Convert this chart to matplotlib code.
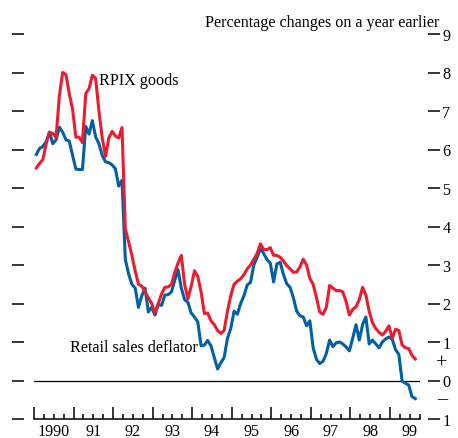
import matplotlib
matplotlib.use("Agg")
import matplotlib.pyplot as plt
import numpy as np

plt.rcParams["font.family"] = ["Liberation Serif", "DejaVu Serif"]

# Monthly percentage changes on a year earlier, January 1990 onwards
rpix_goods = [
    5.52, 5.64, 5.74, 6.15, 6.45, 6.42, 6.31, 7.40, 8.00, 7.95, 7.45, 7.05,
    6.32, 6.32, 6.18, 7.45, 7.58, 7.93, 7.85, 7.00, 6.30, 5.82, 6.30, 6.47,
    6.35, 6.30, 6.57, 3.95, 3.60, 3.25, 2.85, 2.50, 2.45, 2.30, 2.15, 2.00,
    1.75, 2.00, 2.25, 2.42, 2.43, 2.50, 2.80, 3.05, 3.25, 2.50, 2.12, 2.45,
    2.85, 2.70, 2.30, 1.74, 1.75, 1.55, 1.45, 1.30, 1.22, 1.30, 1.80, 2.20,
    2.50, 2.58, 2.64, 2.75, 2.90, 3.00, 3.15, 3.30, 3.55, 3.40, 3.40, 3.45,
    3.25, 3.25, 3.20, 3.10, 2.98, 2.90, 2.81, 2.82, 2.95, 3.15, 3.00, 2.65,
    2.50, 2.15, 1.78, 1.72, 1.90, 2.47, 2.40, 2.33, 2.34, 2.30, 2.05, 1.70,
    1.85, 1.91, 2.10, 2.42, 2.22, 1.80, 1.50, 1.35, 1.25, 1.18, 1.28, 1.42,
    1.10, 1.33, 1.30, 0.92, 0.85, 0.83, 0.65, 0.56,
]
retail_deflator = [
    5.87, 6.03, 6.08, 6.20, 6.45, 6.15, 6.25, 6.58, 6.45, 6.25, 6.22, 5.85,
    5.49, 5.48, 5.48, 6.60, 6.40, 6.75, 6.33, 6.15, 5.85, 5.68, 5.66, 5.60,
    5.50, 5.05, 5.20, 3.15, 2.77, 2.50, 2.40, 1.90, 2.20, 2.40, 1.78, 1.90,
    1.70, 1.98, 1.95, 2.22, 2.23, 2.30, 2.60, 2.88, 2.40, 2.10, 2.03, 1.75,
    1.65, 1.52, 0.90, 0.92, 1.04, 0.90, 0.60, 0.30, 0.46, 0.60, 1.10, 1.35,
    1.80, 1.72, 2.00, 2.20, 2.48, 2.55, 3.00, 3.20, 3.42, 3.30, 3.14, 3.05,
    2.56, 3.03, 3.07, 2.75, 2.51, 2.42, 2.15, 1.80, 1.68, 1.65, 1.42, 1.55,
    0.85, 0.55, 0.44, 0.50, 0.70, 1.05, 0.88, 0.98, 1.00, 0.95, 0.87, 0.77,
    1.10, 1.45, 1.05, 1.45, 1.65, 0.95, 1.05, 0.95, 0.85, 1.00, 1.08, 1.13,
    1.07, 0.80, 0.68, -0.02, -0.07, -0.12, -0.42, -0.47,
]

years = list(range(1990, 2000))
year_labels = ["1990", "91", "92", "93", "94", "95", "96", "97", "98", "99"]
y_values = list(range(-1, 10))
y_labels = ["1", "0", "1", "2", "3", "4", "5", "6", "7", "8", "9"]

RED = "#ec1c2e"
BLUE = "#0060a6"
FS = 11.6

t = 1990 + (np.arange(len(rpix_goods)) + 0.7) / 12.0

fig = plt.figure(figsize=(4.58, 4.39), dpi=100)
ax = fig.add_axes([34 / 458, 19 / 439, 385.6 / 458, 385 / 439])
ax.set_xlim(1990, 1999.72)
ax.set_ylim(-1, 9)

ax.axhline(0, color="black", lw=0.9, zorder=1)
ax.plot(t, retail_deflator, color=BLUE, lw=2.2, solid_joinstyle="round", zorder=2)
ax.plot(t, rpix_goods, color=RED, lw=2.2, solid_joinstyle="round", zorder=3)

# spines: only the bottom axis line is drawn
ax.spines["top"].set_visible(False)
ax.spines["left"].set_position(("outward", 7.2))
ax.spines["left"].set_visible(False)
ax.spines["right"].set_position(("outward", 6.0))
ax.spines["right"].set_visible(False)
ax.spines["bottom"].set_linewidth(1.1)

ax.set_yticks(y_values)
ax.set_yticklabels(y_labels)
ax.tick_params(axis="y", which="major", left=True, right=True, labelleft=False,
               labelright=True, direction="out", length=8.3, width=1.1,
               pad=2, labelsize=FS)

ax.set_xticks(years)
ax.set_xticks(np.arange(1990, 1999.8, 0.25), minor=True)
ax.tick_params(axis="x", which="major", direction="in", length=8.4, width=1.1,
               labelbottom=False, top=False)
ax.tick_params(axis="x", which="minor", direction="in", length=3.6, width=1.1,
               top=False)

xt = ax.get_xaxis_transform()
for yr, lab in zip(years, year_labels):
    ax.text(yr + 0.5, -0.010, lab, transform=xt, ha="center", va="top",
            fontsize=FS)

yt = ax.get_yaxis_transform()
ax.text(1.058, 0.46, "+", transform=yt, ha="center", va="center", fontsize=14.5)
ax.text(1.058, -0.46, "\u2013", transform=yt, ha="center", va="center", fontsize=14.5)

ax.text(1.0525, 1.0208, "Percentage changes on a year earlier",
        transform=ax.transAxes, ha="right", va="baseline", fontsize=FS)
ax.text(1991.64, 7.71, "RPIX goods", ha="left", va="baseline", fontsize=FS)
ax.text(1990.907, 0.76, "Retail sales deflator", ha="left", va="baseline",
        fontsize=FS)

fig.savefig("out.png", dpi=100)
